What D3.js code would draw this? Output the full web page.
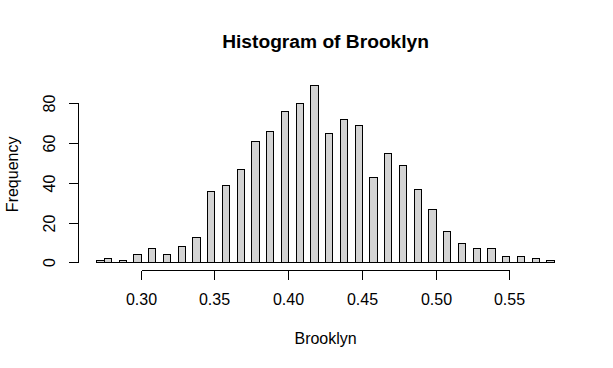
<!DOCTYPE html>
<html><head><meta charset="utf-8">
<script src="https://cdn.jsdelivr.net/npm/d3@7"></script>
<style>
body{margin:0;background:#fff}
svg{display:block}
text{font-family:"Liberation Sans",Arial,sans-serif;fill:#000}
</style>
</head><body>
<svg id="c" width="613" height="368"></svg>
<script>
// ---- data ----
const chartTitle = "Histogram of Brooklyn";
const xLabel = "Brooklyn";
const yLabel = "Frequency";
const breakStart = 0.27;     // first break
const binWidth = 0.005;      // histogram break step
const counts = [1,2,0,1,0,4, 0,7,0,4,0,8, 0,13,0,36,0,39, 0,47,0,61,0,66,
                0,76,0,80,0,89, 0,65,0,72,0,69, 0,43,0,55,0,49, 0,37,0,27,0,16,
                0,10,0,7,0,7, 0,3,0,3,0,2, 0,1];
const xTicks = [0.30,0.35,0.40,0.45,0.50,0.55];
const xTickLabels = ["0.30","0.35","0.40","0.45","0.50","0.55"];
const yTicks = [0,20,40,60,80];

// ---- layout ----
const W = 613, H = 368;
const plot = {left:78.7, right:572.5, top:78.7, bottom:270};
const bins = counts.map((c,i)=>({x0:+(breakStart+i*binWidth).toFixed(3), x1:+(breakStart+(i+1)*binWidth).toFixed(3), n:c}));
const xMin = bins[0].x0, xMax = bins[bins.length-1].x1;
const xPad = (xMax-xMin)*0.04;
const yMax = d3.max(counts);
const x = d3.scaleLinear().domain([xMin-xPad, xMax+xPad]).range([plot.left, plot.right]);
const y = d3.scaleLinear().domain([-yMax*0.04, yMax*1.04]).range([plot.bottom, plot.top]);
const px = v => Math.floor(v)+0.5;

const svg = d3.select("#c");

// bars (zero-count bins draw as flat lines, like R)
svg.append("g").selectAll("path").data(bins).join("path")
  .attr("d", d=>{
    const a=px(x(d.x0)), b=px(x(d.x1)), t=px(y(d.n)), z=px(y(0));
    return `M${a},${z}H${b}V${t}H${a}Z`;
  })
  .attr("fill","#d3d3d3").attr("stroke","#000").attr("stroke-width",1)
  .attr("shape-rendering","crispEdges");

// x axis
const xAxis = d3.axisBottom(x).tickValues(xTicks).tickFormat((d,i)=>xTickLabels[i]).tickSize(9.6).tickSizeOuter(0);
const gx = svg.append("g").attr("transform",`translate(0,${px(plot.bottom)})`).call(xAxis);
gx.select(".domain").attr("d",`M${px(x(xTicks[0]))},0H${px(x(xTicks[xTicks.length-1]))}`);
gx.selectAll(".tick").attr("transform",d=>`translate(${px(x(d))},0)`);
gx.selectAll("path,line").attr("stroke","#000").attr("shape-rendering","crispEdges");
gx.selectAll("text").attr("dy",null).attr("y",305-px(plot.bottom)).attr("font-size","16px").attr("font-family",null).attr("fill","#000");
gx.attr("font-family",null).attr("font-size",null);

// y axis
const yAxis = d3.axisLeft(y).tickValues(yTicks).tickSize(9.6).tickSizeOuter(0);
const gy = svg.append("g").attr("transform",`translate(${px(plot.left)},0)`).call(yAxis);
gy.select(".domain").attr("d",`M0,${px(y(yTicks[0]))}V${px(y(yTicks[yTicks.length-1]))}`);
gy.selectAll(".tick").attr("transform",d=>`translate(0,${px(y(d))})`);
gy.selectAll("path,line").attr("stroke","#000").attr("shape-rendering","crispEdges");
gy.selectAll("text").attr("dy",null).attr("x",null).attr("y",null)
  .attr("transform",`translate(${55-px(plot.left)},0) rotate(-90)`)
  .attr("text-anchor","middle").attr("font-size","16px").attr("fill","#000");
gy.attr("font-family",null).attr("font-size",null);

// labels
svg.append("text").attr("x",(plot.left+plot.right)/2).attr("y",48)
  .attr("text-anchor","middle").attr("font-weight","bold").attr("font-size","19.2px").text(chartTitle);
svg.append("text").attr("x",(plot.left+plot.right)/2).attr("y",344)
  .attr("text-anchor","middle").attr("font-size","16px").text(xLabel);
svg.append("text").attr("transform",`translate(18,${(plot.top+plot.bottom)/2}) rotate(-90)`)
  .attr("text-anchor","middle").attr("font-size","16px").text(yLabel);
</script>
</body></html>
